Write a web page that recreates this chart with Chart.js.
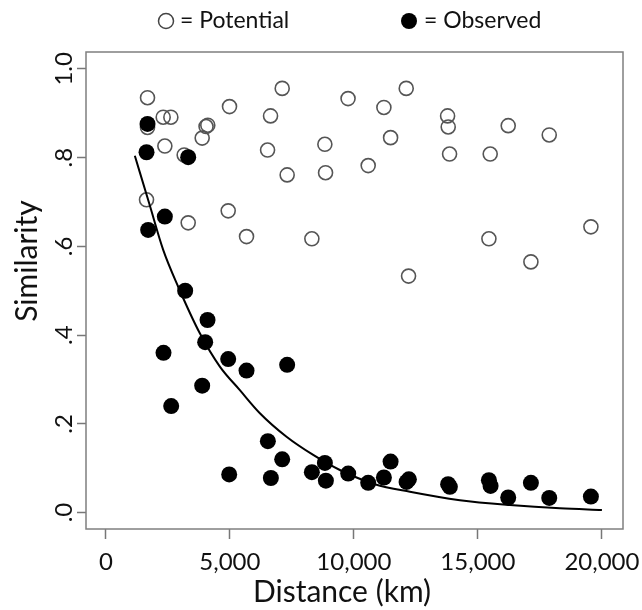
<!DOCTYPE html>
<html>
<head>
<meta charset="utf-8">
<script src="https://cdn.jsdelivr.net/npm/chart.js@4.4.1/dist/chart.umd.min.js"></script>
<style>
  html, body { margin: 0; padding: 0; background: #fff; }
  canvas { display: block; }
</style>
</head>
<body>
<canvas id="myChart" width="642" height="610"></canvas>
<script>
// tick values / labels
var xTickValues = [0, 5000, 10000, 15000, 20000];
var yTickValues = [0, 0.2, 0.4, 0.6, 0.8, 1.0];
var yTickLabels = [".0", ".2", ".4", ".6", ".8", "1.0"];

// potential similarity (open circles)
var potentialDist = [1680, 2312, 2621, 1680, 4040, 4110, 3884, 4986, 7110, 6640, 9765, 2379,
  3158, 6520, 8830, 7310, 8858, 1640, 4933, 3320, 5672, 8306, 11210, 12110, 11480, 10577,
  13778, 13803, 13858, 15496, 16222, 17876, 19556, 15444, 17137, 12204];
var potentialSim = [0.935, 0.891, 0.891, 0.868, 0.870, 0.873, 0.844, 0.915, 0.956, 0.894, 0.933, 0.826,
  0.806, 0.817, 0.830, 0.761, 0.766, 0.705, 0.680, 0.653, 0.622, 0.617, 0.913, 0.956, 0.845, 0.782,
  0.894, 0.869, 0.808, 0.808, 0.872, 0.851, 0.644, 0.617, 0.565, 0.533];

// observed similarity (filled circles)
var observedDist = [1680, 1640, 3320, 2379, 1706, 3198, 4100, 4005, 2325, 4933, 5672, 7310,
  3884, 2634, 6532, 7110, 4973, 6653, 8306, 8831, 8871, 9772, 10577, 11210, 11480, 12125,
  12218, 13800, 13870, 15444, 15511, 16222, 17137, 17876, 19556];
var observedSim = [0.876, 0.812, 0.801, 0.667, 0.637, 0.500, 0.434, 0.384, 0.360, 0.346, 0.320, 0.333,
  0.286, 0.240, 0.161, 0.120, 0.086, 0.078, 0.091, 0.112, 0.072, 0.088, 0.067, 0.079, 0.115, 0.069,
  0.075, 0.064, 0.058, 0.073, 0.060, 0.034, 0.067, 0.033, 0.036];

// fitted decay curve
var curveDist = [1169, 1747, 2312, 2917, 3790, 4597, 5403, 6210, 7285, 8360, 9435, 10847, 12258, 14274, 16290, 18306, 20000];
var curveSim = [0.804, 0.697, 0.592, 0.509, 0.404, 0.329, 0.276, 0.224, 0.171, 0.130, 0.096, 0.064, 0.047, 0.028, 0.017, 0.0095, 0.006];

function toPoints(xs, ys) {
  var pts = [];
  for (let i = 0; i < xs.length; i++) {
    pts.push({ x: xs[i], y: ys[i] });
  }
  return pts;
}

var fontFam = "Lato, 'Open Sans', sans-serif";

// frame, rotated y labels, titles and legend
var decor = {
  id: "decor",
  beforeDraw(chart) {
    const ctx = chart.ctx;
    ctx.save();
    ctx.fillStyle = "#fff";
    ctx.fillRect(0, 0, chart.width, chart.height);
    ctx.restore();
  },
  afterDraw(chart) {
    const ctx = chart.ctx;
    const a = chart.chartArea;
    const y = chart.scales.y;
    ctx.save();
    ctx.strokeStyle = "#7f7f7f";
    ctx.lineWidth = 1.5;
    ctx.strokeRect(a.left, a.top, a.right - a.left, a.bottom - a.top);

    ctx.fillStyle = "#111";
    ctx.textAlign = "center";
    ctx.textBaseline = "middle";
    ctx.font = "24px " + fontFam;
    yTickValues.forEach((v, i) => {
      ctx.save();
      ctx.translate(64, y.getPixelForValue(v));
      ctx.rotate(-Math.PI / 2);
      ctx.fillText(yTickLabels[i], 0, 0);
      ctx.restore();
    });

    ctx.font = "30px " + fontFam;
    ctx.save();
    ctx.translate(27, 261);
    ctx.rotate(-Math.PI / 2);
    ctx.fillText("Similarity", 0, 0);
    ctx.restore();
    ctx.fillText("Distance (km)", 342, 592);

    // legend
    ctx.font = "23px " + fontFam;
    ctx.textAlign = "left";
    ctx.beginPath();
    ctx.arc(166, 21, 7.5, 0, Math.PI * 2);
    ctx.lineWidth = 1.5;
    ctx.strokeStyle = "#444";
    ctx.stroke();
    ctx.fillText("= Potential", 180, 21);
    ctx.beginPath();
    ctx.arc(409, 21, 8, 0, Math.PI * 2);
    ctx.fillStyle = "#000";
    ctx.fill();
    ctx.fillStyle = "#111";
    ctx.fillText("= Observed", 424, 21);
    ctx.restore();
  }
};

const ctx = document.getElementById("myChart").getContext("2d");
const myChart = new Chart(ctx, {
  type: "scatter",
  data: {
    datasets: [
      {
        label: "Observed",
        data: toPoints(observedDist, observedSim),
        backgroundColor: "#000",
        borderWidth: 0,
        pointRadius: 8
      },
      {
        label: "Fit",
        data: toPoints(curveDist, curveSim),
        showLine: true,
        borderColor: "#000",
        borderWidth: 2,
        pointRadius: 0,
        cubicInterpolationMode: "monotone"
      },
      {
        label: "Potential",
        data: toPoints(potentialDist, potentialSim),
        backgroundColor: "rgba(255,255,255,0)",
        borderColor: "#555",
        borderWidth: 1.6,
        pointRadius: 7
      }
    ]
  },
  options: {
    responsive: false,
    animation: false,
    devicePixelRatio: 1,
    layout: { padding: { top: 52, right: 19, left: 0, bottom: 0 } },
    plugins: {
      legend: { display: false },
      tooltip: { enabled: false }
    },
    scales: {
      x: {
        type: "linear",
        min: -800,
        max: 20850,
        afterBuildTicks: s => { s.ticks = xTickValues.map(v => ({ value: v })); },
        afterFit: s => {
          s.height = 81;
          s.paddingLeft = 0;
          s.paddingRight = 0;
        },
        ticks: {
          autoSkip: false,
          maxRotation: 0,
          padding: 9,
          color: "#111",
          font: { family: fontFam, size: 24 },
          callback: v => v.toLocaleString("en-US")
        },
        grid: { drawOnChartArea: false, drawTicks: true, tickLength: 10, tickColor: "#777", tickWidth: 1.5 },
        border: { display: false }
      },
      y: {
        type: "linear",
        min: -0.037,
        max: 1.038,
        afterBuildTicks: s => { s.ticks = yTickValues.map(v => ({ value: v })); },
        afterFit: s => {
          s.width = 86;
          s.paddingTop = 0;
          s.paddingBottom = 0;
        },
        ticks: { display: false },
        grid: { drawOnChartArea: false, drawTicks: true, tickLength: 9, tickColor: "#777", tickWidth: 1.5 },
        border: { display: false }
      }
    }
  },
  plugins: [decor]
});
</script>
</body>
</html>
